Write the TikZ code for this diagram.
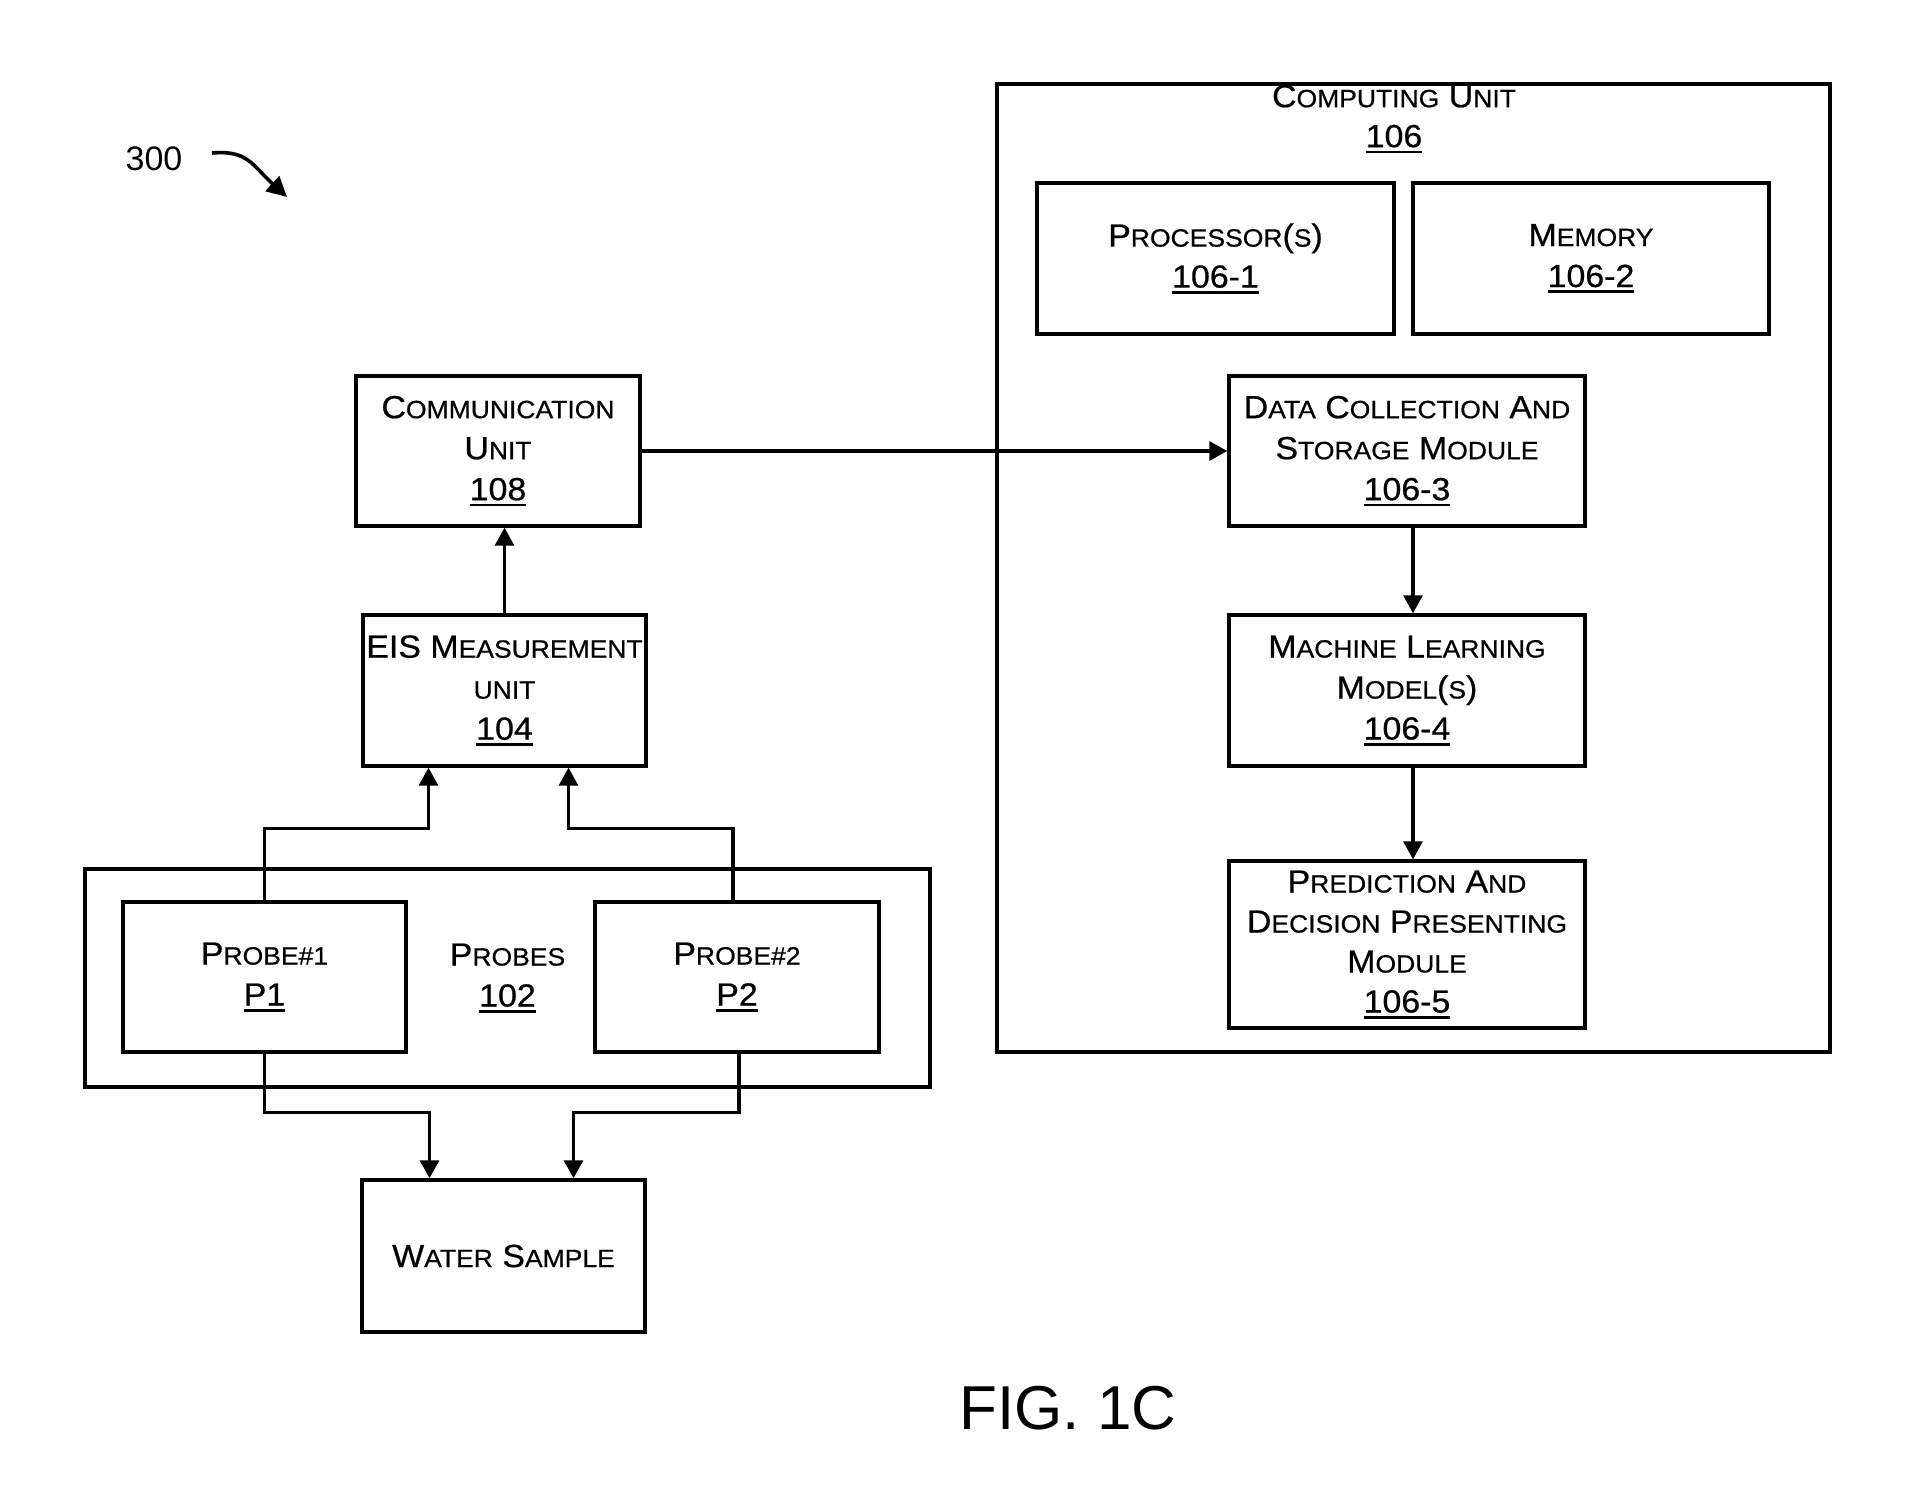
\documentclass[tikz,border=0pt]{standalone}
\usepackage{fontspec}
\setmainfont{Liberation Sans}
\newfontfamily\boxfont[FakeStretch=1.06, FakeBold=0.6]{Liberation Sans}
\usetikzlibrary{arrows.meta,calc}

% small capitals, faked with a smaller size
\newcommand{\smc}[1]{{\fontsize{12.5pt}{20.5pt}\selectfont #1}}
% underlined reference numeral
\newcommand{\refnum}[1]{\setbox0=\hbox{#1}\rlap{\rule[-3pt]{\wd0}{1.3pt}}\box0}

\tikzset{
  blk/.style={draw, line width=1.7pt, align=center, inner sep=0pt,
    font=\boxfont\fontsize{16pt}{20.5pt}\selectfont},
  con/.style={line width=1.6pt, -{Triangle[length=9pt,width=9.5pt]}},
}

\begin{document}
\begin{tikzpicture}[x=0.5pt, y=-0.5pt]
  \useasboundingbox (0,0) rectangle (1912,1500);

  % figure tag
  \node (tag) at (154,159) {\fontsize{17pt}{20pt}\selectfont 300};
  \coordinate (tagA) at (212,153);
  \coordinate (tagB) at (287,197);
  \draw[line width=1.8pt, -{Triangle[length=10pt,width=10pt]}] (tagA) .. controls (248,150) and (252,165) .. (tagB);

  % left column
  \node[blk, minimum width=142pt, minimum height=75pt] (comm) at (498,451) {C\smc{OMMUNICATION}\\U\smc{NIT}\\\refnum{108}};
  \node[blk, minimum width=141.5pt, minimum height=75.5pt] (eis) at (504.5,690.5) {EIS M\smc{EASUREMENT}\\\smc{UNIT}\\\refnum{104}};

  \node[blk, minimum width=422.5pt, minimum height=109pt] (probes) at (507.5,978) {P\smc{ROBES}\\\refnum{102}};
  \node[blk, minimum width=141.5pt, minimum height=75pt] (p1) at (264.5,977) {P\smc{ROBE\#1}\\\refnum{P1}};
  \node[blk, minimum width=142pt, minimum height=75pt] (p2) at (737,977) {P\smc{ROBE\#2}\\\refnum{P2}};

  \node[blk, minimum width=141.5pt, minimum height=76pt] (water) at (503.5,1256) {W\smc{ATER} S\smc{AMPLE}};

  % computing unit
  \node[blk, minimum width=416.5pt, minimum height=484pt] (cu) at (1413.5,568) {};
  \node[font=\boxfont\fontsize{16pt}{20pt}\selectfont, align=center, inner sep=0pt] (cutitle) at (1394,119) {C\smc{OMPUTING} U\smc{NIT}\\\refnum{106}};
  \node[blk, minimum width=178.5pt, minimum height=75.5pt] (proc) at (1215.5,258.5) {P\smc{ROCESSOR}(\smc{S})\\\refnum{106-1}};
  \node[blk, minimum width=178pt, minimum height=75.5pt] (mem) at (1591,258.5) {M\smc{EMORY}\\\refnum{106-2}};
  \node[blk, minimum width=178pt, minimum height=75pt] (dc) at (1407,451) {D\smc{ATA} C\smc{OLLECTION} A\smc{ND}\\S\smc{TORAGE} M\smc{ODULE}\\\refnum{106-3}};
  \node[blk, minimum width=178pt, minimum height=75.5pt] (ml) at (1407,690.5) {M\smc{ACHINE} L\smc{EARNING}\\M\smc{ODEL}(\smc{S})\\\refnum{106-4}};
  \node[blk, minimum width=178pt, minimum height=83.5pt, font=\boxfont\fontsize{16pt}{20pt}\selectfont] (pred) at (1407,944.5) {P\smc{REDICTION} A\smc{ND}\\D\smc{ECISION} P\smc{RESENTING}\\M\smc{ODULE}\\\refnum{106-5}};

  % connectors
  \draw[con] (eis.north) -- (eis.north |- comm.south);
  \draw[con] (p1.north) -- ++(0,-72) -| ([xshift=-38pt]eis.south);
  \draw[con] ([xshift=-2pt]p2.north) -- ++(0,-72) -| ([xshift=32pt]eis.south);
  \draw[con] (p1.south) -- ++(0,59) -| ([xshift=-37pt]water.north);
  \draw[con] ([xshift=1pt]p2.south) -- ++(0,59) -| ([xshift=35pt]water.north);
  \draw[con] (comm.east) -- (dc.west);
  \draw[con] ([xshift=3pt]dc.south) -- ([xshift=3pt]ml.north);
  \draw[con] ([xshift=3pt]ml.south) -- ([xshift=3pt]pred.north);

  \node (fig) at (1068,1408) {\fontsize{31pt}{36pt}\selectfont FIG. 1C};
\end{tikzpicture}
\end{document}
